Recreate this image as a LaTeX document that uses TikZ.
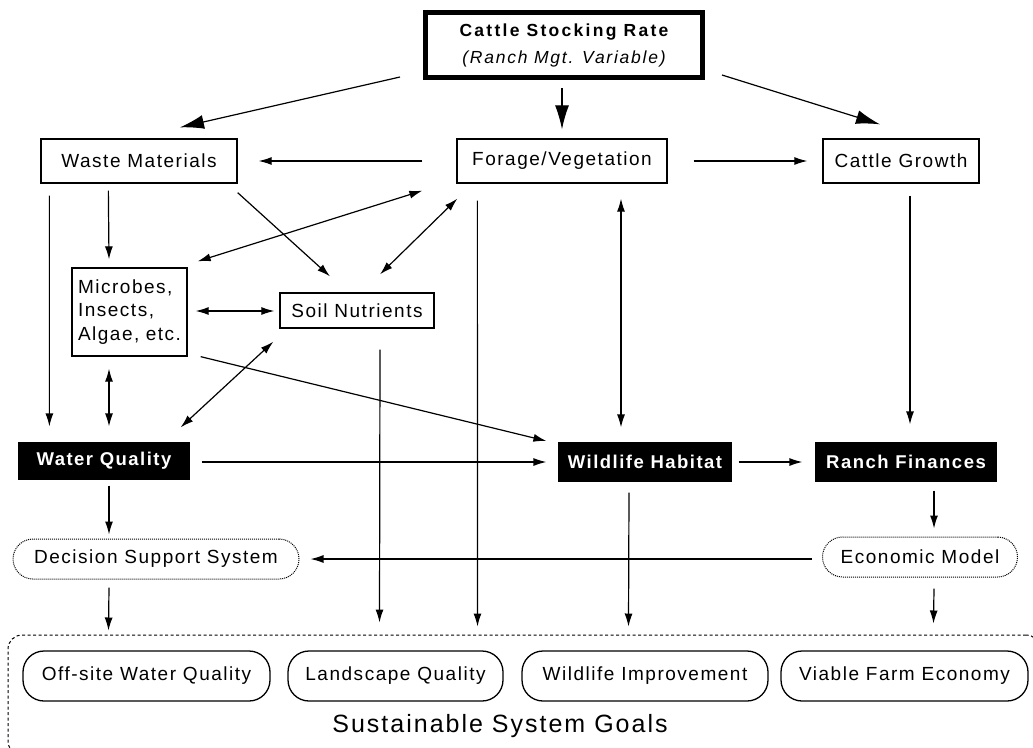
\documentclass[tikz,border=0pt]{standalone}
\usepackage{fontspec}
\setmainfont[LetterSpace=8]{Liberation Sans}
\usetikzlibrary{arrows.meta,calc}
\begin{document}
\begin{tikzpicture}[x=1pt,y=-1pt,line width=1.2pt,
  arr/.style={-{Latex[length=13pt,width=8pt]}},
  darr/.style={{Latex[length=13pt,width=8pt]}-{Latex[length=13pt,width=8pt]}},
  bigarr/.style={-{Latex[length=24pt,width=14pt]}},
  txt/.style={font=\fontsize{19}{23.5}\selectfont},
  box/.style={draw,line width=1.3pt,inner sep=0pt,txt},
  blk/.style={fill=black,text=white,inner sep=0pt,font=\bfseries\fontsize{18.5}{21}\selectfont},
  model/.style={draw,line width=1pt,dash pattern=on 1pt off 1pt,rounded corners=20pt,inner sep=0pt,minimum height=40pt,txt},
  goal/.style={draw,line width=1.3pt,rounded corners=21pt,inner sep=0pt,minimum height=50pt,txt}]
\useasboundingbox (0,0) rectangle (1033,747);
\clip (0,0) rectangle (1033,747);

% nodes
\node[box,line width=5pt,minimum width=277pt,minimum height=65pt,align=center,font=\fontsize{17.5}{27}\selectfont] (csr) at (564,45)
  {{\bfseries\addfontfeature{LetterSpace=13}Cattle Stocking Rate}\\{\itshape\addfontfeature{LetterSpace=10}(Ranch Mgt. Variable)}};
\node[box,minimum width=210pt,minimum height=44pt] (fv) at (562,161) {Forage/Vegetation};
\node[box,minimum width=196pt,minimum height=44pt] (wm) at (139,161) {Waste Materials};
\node[box,minimum width=156pt,minimum height=44pt] (cg) at (901,161) {Cattle Growth};
\node[box,minimum width=115pt,minimum height=88pt,text width=103pt,align=left] (mic) at (129.5,312) {Microbes,\\Insects,\\Algae, etc.};
\node[box,minimum width=154pt,minimum height=35pt] (sn) at (357,310.5) {Soil Nutrients};
\node[blk,minimum width=172pt,minimum height=38pt] (wq) at (104,461) {Water Quality};
\node[blk,minimum width=174pt,minimum height=40pt] (wh) at (645,462) {Wildlife Habitat};
\node[blk,minimum width=182pt,minimum height=40pt] (rf) at (906,462) {Ranch Finances};
\node[model,minimum width=286pt] (dss) at (156,559) {Decision Support System};
\node[model,minimum width=195pt] (em) at (920,557) {Economic Model};
\node[draw,line width=1pt,dash pattern=on 3pt off 2.5pt,rounded corners=14pt,minimum width=1032pt,minimum height=120pt,inner sep=0pt] (frame) at (524,695) {};
\node[goal,minimum width=247pt] (g1) at (146.5,676) {Off-site Water Quality};
\node[goal,minimum width=215pt] (g2) at (395.5,676) {Landscape Quality};
\node[goal,minimum width=246pt] (g3) at (645,676) {Wildlife Improvement};
\node[goal,minimum width=247pt] (g4) at (904.5,676) {Viable Farm Economy};
\node[anchor=base,font=\fontsize{25}{29}\selectfont] (sg) at (500,732) {Sustainable System Goals};

% connectors
\draw[bigarr] ($(csr.south west)+(-23,-3)$) -- ($(wm.north)+(41,-11)$);
\draw[bigarr] ($(csr.south)+(-2,8)$) -- ($(fv.north)+(0,-9)$);
\draw[bigarr] ($(csr.south east)+(17,-5)$) -- ($(cg.north)+(-21,-14)$);
\draw[arr] ($(fv.west)+(-34,0)$) -- ($(wm.east)+(21,0)$);
\draw[arr] ($(fv.east)+(26,0)$) -- ($(cg.west)+(-15,0)$);
\draw[arr] ($(wm.south west)+(9,12)$) -- ($(wq.north west)+(32,-15)$);
\draw[arr] ($(wm.south west)+(68,7)$) -- ($(mic.north)+(-20.5,-8)$);
\draw[arr] ($(wm.south east)+(0,9)$) -- ($(sn.north)+(-27,-16)$);
\draw[darr] ($(fv.south west)+(-34,7)$) -- ($(mic.north east)+(10,-6)$);
\draw[darr] ($(fv.south west)+(1,15)$) -- ($(sn.north)+(23,-18)$);
\draw[darr] ($(mic.east)+(8,-1)$) -- ($(sn.west)+(-5,0.5)$);
\draw[darr] ($(mic.south)+(-20.5,12)$) -- ($(wq.north)+(5,-15)$);
\draw[darr] ($(sn.south west)+(-6,13)$) -- ($(wq.north east)+(-10,-14)$);
\draw[arr] ($(mic.south east)+(13,0)$) -- ($(wh.west)+(-11,-21)$);
\draw[arr] ($(wq.east)+(11,1)$) -- ($(wh.west)+(-11,0)$);
\draw[darr] ($(fv.south)+(59,15)$) -- ($(wh.north)+(-24,-14)$);
\draw[arr] ($(cg.south)+(9,12)$) -- ($(rf.north)+(4,-17)$);
\draw[arr] ($(wh.east)+(6,0)$) -- ($(rf.west)+(-12,0)$);
\draw[arr] ($(sn.south)+(23,21)$) -- ($(frame.north west)+(372,-12)$);
\draw[arr] ($(fv.south west)+(21,17)$) -- ($(frame.north west)+(470,-8)$);
\draw[arr] ($(wq.south)+(5,5)$) -- ($(dss.north)+(-47,-4)$);
\draw[arr] ($(dss.south)+(-47,8)$) -- ($(frame.north west)+(101,-4)$);
\draw[arr] ($(em.west)+(-10,2)$) -- ($(dss.east)+(11,0)$);
\draw[arr] ($(wh.south)+(-16,10)$) -- ($(frame.north west)+(621,-8)$);
\draw[arr] ($(rf.south)+(28,8)$) -- ($(em.north)+(14,-8)$);
\draw[arr] ($(em.south)+(14,11)$) -- ($(frame.north west)+(926,-11)$);
\end{tikzpicture}
\end{document}
